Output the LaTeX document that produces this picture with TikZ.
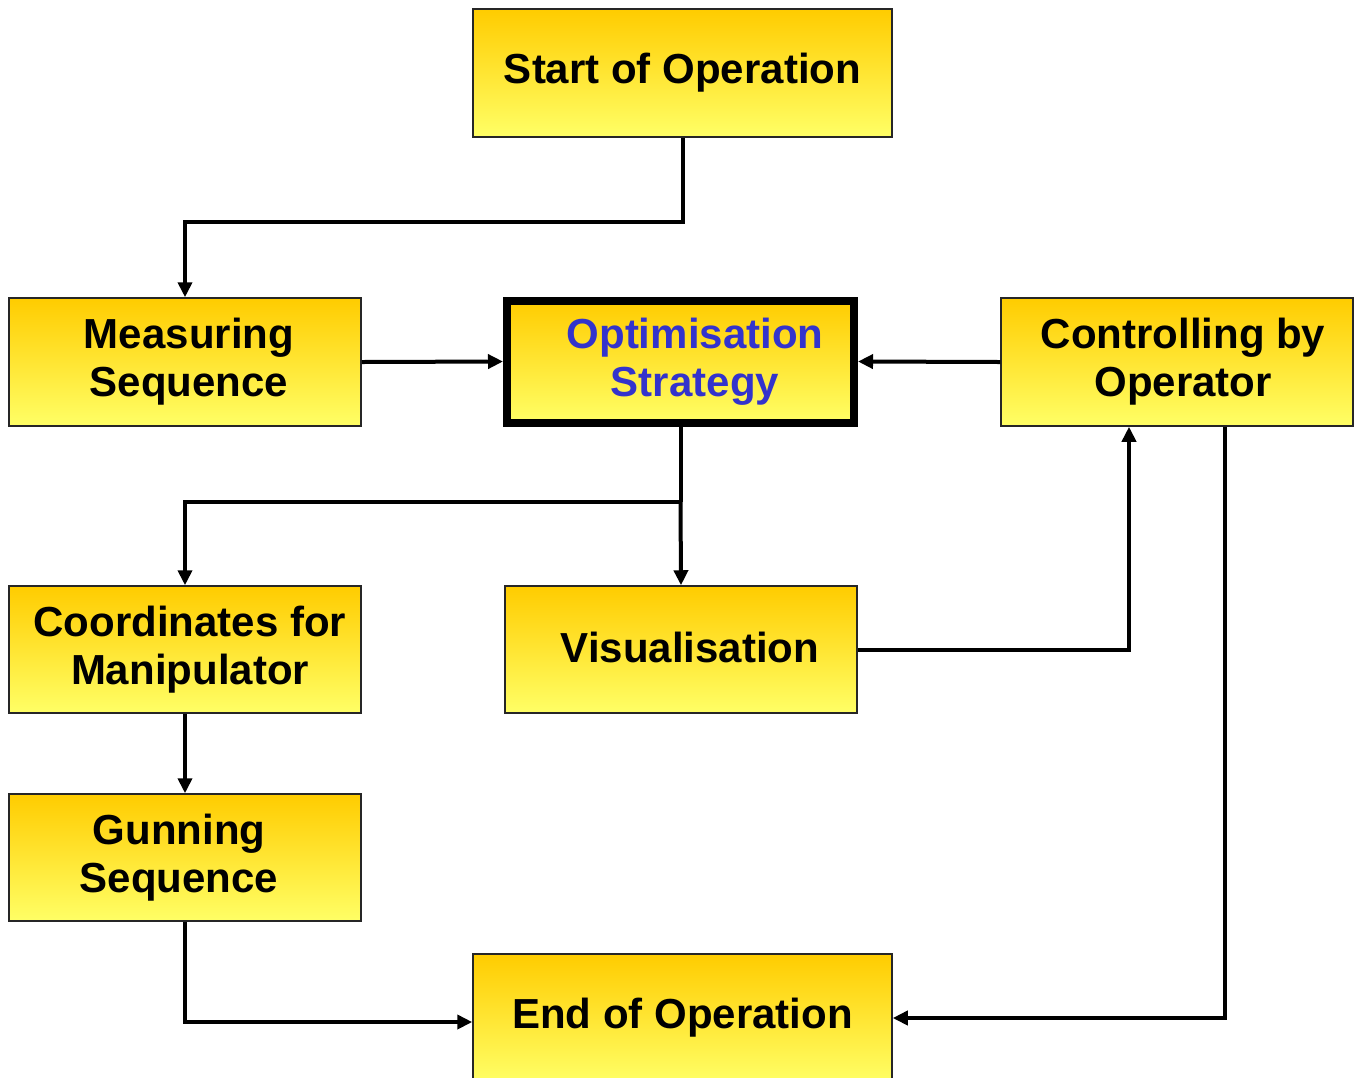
\documentclass[tikz,border=0pt]{standalone}
\usepackage{fontspec}
\setmainfont{Liberation Sans}
\usetikzlibrary{arrows.meta}
\definecolor{ytop}{RGB}{255,204,0}
\definecolor{ybot}{RGB}{255,255,102}
\definecolor{optblue}{RGB}{51,51,204}
\tikzset{
  box/.style={rectangle, draw=black!85, line width=0.75pt, top color=ytop, bottom color=ybot,
    minimum width=176pt, minimum height=64pt, align=center, inner sep=2pt,
    font=\fontsize{21}{24}\selectfont\bfseries},
  conn/.style={line width=2pt, -{Triangle[length=7.5pt,width=7pt]}},
  plain/.style={line width=2pt}
}
\begin{document}
\begin{tikzpicture}[x=0.5pt,y=-0.5pt]
\useasboundingbox (0,0) rectangle (1358,1077);
\node[box, minimum width=209.5pt] (start) at (682.5,73) {Start of Operation};
\node[box] (meas) at (185,362) {\hspace*{4pt}Measuring\\\hspace*{4pt}Sequence};
\node[box, line width=4pt, draw=black, minimum width=173.5pt, minimum height=61pt, text=optblue] (opt) at (680.5,361.5) {\hspace*{14.5pt}Optimisation\\\hspace*{14.5pt}Strategy};
\node[box] (ctrl) at (1177,362) {\hspace*{6pt}Controlling by\\\hspace*{6pt}Operator};
\node[box, minimum height=63.5pt] (coord) at (185,649.5) {\hspace*{5pt}\raisebox{-2pt}{Coordinates for}\\\hspace*{5pt}\raisebox{-2pt}{Manipulator}};
\node[box, minimum height=63.5pt] (vis) at (681,649.5) {\hspace*{9pt}\raisebox{2pt}{Visualisation}};
\node[box, minimum height=63.5pt] (gun) at (185,857.5) {Gunning\hspace*{6pt}\\Sequence\hspace*{6pt}};
\node[box, minimum width=209.5pt] (end) at (682.5,1018) {End of Operation};

\draw[conn] (start.south) -- ++(0,84) -| (meas.north);
\draw[conn] (meas.east) -- (opt.west);
\draw[conn] (ctrl.west) -- (opt.east);
\draw[plain] (opt.south) -- ++(0,75) coordinate (j);
\draw[conn] (j) -| (coord.north);
\draw[conn] (j) -- (vis.north);
\draw[conn] (vis.east) -| ([xshift=-24pt]ctrl.south);
\draw[conn] ([xshift=24pt]ctrl.south) |- (end.east);
\draw[conn] (coord.south) -- (gun.north);
\draw[conn] (gun.south) |- ([yshift=-2pt]end.west);
\end{tikzpicture}
\end{document}
